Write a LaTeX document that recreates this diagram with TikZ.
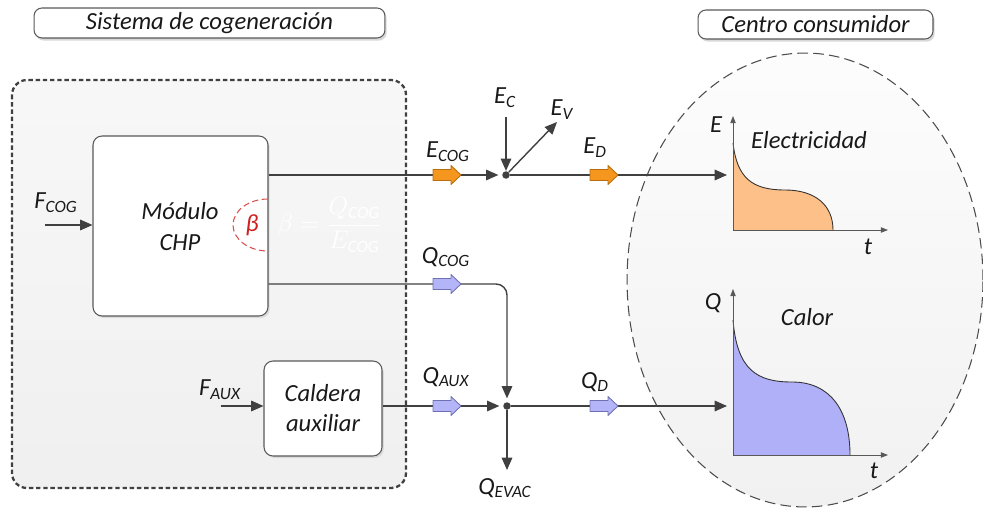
\documentclass[tikz,border=0pt]{standalone}
\usepackage{fontspec}
\setmainfont{Carlito}
\usetikzlibrary{shadows,arrows.meta}
\definecolor{linegray}{HTML}{404040}
\definecolor{orangef}{HTML}{F5961E}
\definecolor{oranged}{HTML}{B86E10}
\definecolor{bluef}{HTML}{B4B4F8}
\definecolor{blued}{HTML}{7070B0}
\definecolor{elecfill}{HTML}{FDC088}
\definecolor{heatfill}{HTML}{B0B0F8}
\definecolor{betared}{HTML}{D02020}
\newcommand{\lb}[2]{#1\textsubscript{#2}}
\tikzset{
  lbl/.style={font=\fontsize{14}{17.6}\selectfont\itshape, inner sep=0, text=black!90},
  flow/.style={draw=linegray, line width=0.8pt, -{Triangle[length=7pt,width=6pt]}},
  axisline/.style={draw=gray!70!black, line width=0.5pt, -{Triangle[length=4pt,width=3pt]}},
  titlebox/.style={draw=gray!70!black, fill=white, rounded corners=0.16cm, line width=0.6pt,
     drop shadow={shadow xshift=1pt, shadow yshift=-1.5pt, fill=gray!60}, inner sep=0},
  blockbox/.style={draw=gray!70!black, fill=white, rounded corners=0.18cm, line width=0.6pt,
     drop shadow={shadow xshift=1pt, shadow yshift=-1.2pt, fill=gray!45}, inner sep=0, align=center},
  oarrow/.style={fill=orangef, draw=oranged, line width=0.5pt, line join=round},
  qarrow/.style={fill=bluef, draw=blued, line width=0.5pt, line join=round},
  junction/.style={circle, fill=linegray, inner sep=0, minimum size=0.15cm},
}
% block arrow centred at a named coordinate
\newcommand{\blkarrow}[2]{\draw[#1] (#2) ++(-14,-5.5) -- ++(18,0) -- ++(0,-4) -- ++(10,9.5)
   -- ++(-10,9.5) -- ++(0,-4) -- ++(-18,0) -- cycle;}
\begin{document}
\begin{tikzpicture}[x=0.02cm, y=-0.02cm]
\useasboundingbox (0,0) rectangle (983,510);

% consumer ellipse
\shade[top color=gray!2, bottom color=gray!11] (805,280) ellipse [x radius=3.56cm, y radius=4.54cm];
\draw[gray!60!black, dashed, dash pattern=on 6pt off 3pt, line width=0.6pt] (805,280) ellipse [x radius=3.56cm, y radius=4.54cm];

% system box
\shade[top color=gray!6, bottom color=gray!12, rounded corners=0.3cm] (12,80) rectangle (406,488);
\draw[linegray, line width=1.3pt, dash pattern=on 2.5pt off 1.6pt, rounded corners=0.3cm] (12,80) rectangle (406,488);

% titles
\node[titlebox, minimum width=7.02cm, minimum height=0.6cm, lbl] (tSis) at (209.5,23) {Sistema de cogeneración};
\node[titlebox, minimum width=4.7cm, minimum height=0.58cm, lbl] (tCen) at (815.5,24.5) {Centro consumidor};

% blocks
\node[blockbox, minimum width=3.5cm, minimum height=3.6cm] (chp) at (180.5,226) {};
\node[lbl, align=center] (chpText) at (180,227) {Módulo\\CHP};
\node[blockbox, minimum width=2.36cm, minimum height=1.9cm] (cal) at (323,408.5) {};
\node[lbl, align=center] (calText) at (323,408) {Caldera\\auxiliar};

% beta ellipse
\begin{scope}
\clip (200,190) rectangle (267.5,262);
\draw[betared!80, dashed, dash pattern=on 3.5pt off 2pt, line width=0.6pt] (268,225) ellipse [x radius=0.7cm, y radius=0.52cm];
\end{scope}
\node[lbl, text=betared] (beta) at (252,225) {β};
\node[text=white, inner sep=0] (betaEq) at (330,225) {\fontsize{14}{16}\selectfont$\displaystyle\beta=\frac{Q_{\mathit{COG}}}{E_{\mathit{COG}}}$};

% junctions and free ends
\node[junction] (jE) at (506,175) {};
\node[junction] (jQ) at (507,406) {};
\coordinate (fcog) at (45,225);
\coordinate (faux) at (221,406);
\coordinate (ecIn) at (506,117);
\coordinate (evOut) at (557,122);
\coordinate (elecIn) at (727,175);
\coordinate (heatIn) at (727,406);
\coordinate (qevac) at (507,470);
\coordinate (qlevel) at (0,284);

% connectors
\draw[flow] (fcog) -- (fcog -| chp.west);
\draw[flow] (faux) -- (faux -| cal.west);
\draw[flow, shorten >=2pt] (chp.east |- jE) -- (jE);
\draw[flow] (ecIn) -- (jE);
\draw[flow] (jE) -- (evOut);
\draw[flow] (jE) -- (elecIn);
\draw[flow, shorten >=2pt, rounded corners=0.22cm] (chp.east |- qlevel) -| (jQ);
\draw[flow, shorten >=2pt] (cal.east |- jQ) -- (jQ);
\draw[flow] (jQ) -- (qevac);
\draw[flow] (jQ) -- (heatIn);

% block arrows
\coordinate (aEcog) at (447,175);
\coordinate (aEd) at (604,175);
\coordinate (aQcog) at (447,284);
\coordinate (aQaux) at (447,406);
\coordinate (aQd) at (604,406);
\blkarrow{oarrow}{aEcog}
\blkarrow{oarrow}{aEd}
\blkarrow{qarrow}{aQcog}
\blkarrow{qarrow}{aQaux}
\blkarrow{qarrow}{aQd}

% flow labels
\node[lbl] (lFcog) at (56,203) {\lb{F}{COG}};
\node[lbl] (lFaux) at (220,390) {\lb{F}{AUX}};
\node[lbl] (lEcog) at (448,152) {\lb{E}{COG}};
\node[lbl] (lEc) at (505,98) {\lb{E}{C}};
\node[lbl] (lEv) at (562,110) {\lb{E}{V}};
\node[lbl] (lEd) at (595,148) {\lb{E}{D}};
\node[lbl] (lQcog) at (446,257) {\lb{Q}{COG}};
\node[lbl] (lQaux) at (446,377) {\lb{Q}{AUX}};
\node[lbl] (lQd) at (595,382) {\lb{Q}{D}};
\node[lbl] (lQevac) at (505,488) {\lb{Q}{EVAC}};

% electricity chart
\fill[elecfill] (733,230) -- (733,143) .. controls (737,178) and (752,190) .. (785,190)
   .. controls (815,190) and (833,205) .. (833,230) -- cycle;
\draw[gray!40!black, line width=0.5pt] (733,143) .. controls (737,178) and (752,190) .. (785,190)
   .. controls (815,190) and (833,205) .. (833,230);
\draw[axisline] (733,230) -- (733,116);
\draw[axisline] (733,230) -- (888,230);
\node[lbl] (lE) at (716,125) {E};
\node[lbl] (lt1) at (868,247) {t};
\node[lbl] (lElec) at (809,140) {Electricidad};

% heat chart
\fill[heatfill] (733,455) -- (733,320) .. controls (737,370) and (757,382) .. (792,382)
   .. controls (830,382) and (850,410) .. (850,455) -- cycle;
\draw[gray!40!black, line width=0.5pt] (733,320) .. controls (737,370) and (757,382) .. (792,382)
   .. controls (830,382) and (850,410) .. (850,455);
\draw[axisline] (733,455) -- (733,289);
\draw[axisline] (733,455) -- (888,455);
\node[lbl] (lQ) at (713,303) {Q};
\node[lbl] (lt2) at (874,471) {t};
\node[lbl] (lCalor) at (807,317) {Calor};
\end{tikzpicture}
\end{document}
